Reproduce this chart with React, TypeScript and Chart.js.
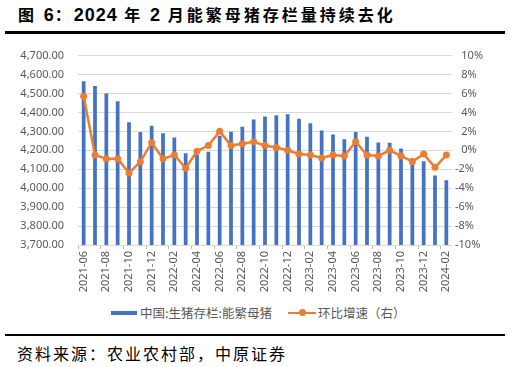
import React, { useEffect, useRef } from 'react';
import { Chart, registerables } from 'chart.js';

Chart.register(...registerables);

const categories = [
  '2021-06', '2021-07', '2021-08', '2021-09', '2021-10', '2021-11', '2021-12',
  '2022-01', '2022-02', '2022-03', '2022-04', '2022-05', '2022-06', '2022-07',
  '2022-08', '2022-09', '2022-10', '2022-11', '2022-12', '2023-01', '2023-02',
  '2023-03', '2023-04', '2023-05', '2023-06', '2023-07', '2023-08', '2023-09',
  '2023-10', '2023-11', '2023-12', '2024-01', '2024-02',
];

const sowStock = [
  4564, 4539, 4500, 4459, 4348, 4296, 4329,
  4290, 4268, 4185, 4177, 4192, 4277, 4298,
  4324, 4362, 4379, 4385, 4390, 4367, 4343,
  4305, 4284, 4258, 4296, 4271, 4241, 4240,
  4210, 4158, 4142, 4067, 4042,
];

const momGrowth = [
  5.7, -0.5, -0.9, -0.9, -2.4, -1.2, 0.8,
  -0.9, -0.5, -1.9, -0.1, 0.5, 2.0, 0.5,
  0.7, 0.9, 0.5, 0.3, 0.0, -0.4, -0.5,
  -0.8, -0.5, -0.6, 0.9, -0.5, -0.6, 0.0,
  -0.6, -1.2, -0.4, -1.8, -0.5,
];

const barLabel = '中国:生猪存栏:能繁母猪';
const lineLabel = '环比增速（右）';
const titleParts = ['图 ', '6', '：', '2024', ' 年 ', '2', ' 月能繁母猪存栏量持续去化'];
const sourceText = '资料来源：农业农村部，中原证券';

const BLUE = '#4472C4';
const ORANGE = '#ED7D31';
const TICK = '#595959';
const GRID = '#D9D9D9';
const CJK = "'Noto Sans CJK SC', 'Noto Sans', sans-serif";

export default function App() {
  const ref = useRef<HTMLCanvasElement | null>(null);

  useEffect(() => {
    if (!ref.current) return;
    const chart = new Chart(ref.current, {
      type: 'bar',
      data: {
        labels: categories,
        datasets: [
          {
            type: 'bar',
            label: barLabel,
            data: sowStock,
            backgroundColor: BLUE,
            barPercentage: 0.33,
            categoryPercentage: 1,
            yAxisID: 'y',
            order: 1,
          },
          {
            type: 'line',
            label: lineLabel,
            data: momGrowth,
            borderColor: ORANGE,
            backgroundColor: ORANGE,
            borderWidth: 2.5,
            pointRadius: 3.5,
            pointBackgroundColor: ORANGE,
            pointBorderColor: ORANGE,
            pointBorderWidth: 0,
            tension: 0,
            yAxisID: 'y1',
            order: 0,
          },
        ],
      },
      options: {
        responsive: false,
        animation: false,
        devicePixelRatio: 1,
        layout: { padding: { top: 10, left: 0, right: 0, bottom: 0 } },
        plugins: {
          legend: { display: false },
          tooltip: { enabled: false },
        },
        scales: {
          x: {
            offset: true,
            grid: {
              display: true,
              offset: true,
              drawOnChartArea: false,
              drawTicks: true,
              tickLength: 4,
              color: (ctx: any) => (ctx.index % 2 === 0 ? '#BFBFBF' : 'rgba(0,0,0,0)'),
            },
            border: { display: false },
            ticks: {
              autoSkip: false,
              minRotation: 90,
              maxRotation: 90,
              padding: 2,
              color: TICK,
              font: { family: "'Noto Sans', sans-serif", size: 11 },
              callback: (_v: any, i: number) => (i % 2 === 0 ? categories[i] : ''),
            },
            afterFit: (s: any) => {
              s.height = 55;
            },
          },
          y: {
            position: 'left',
            min: 3700,
            max: 4700,
            ticks: {
              stepSize: 100,
              padding: 14,
              color: TICK,
              font: { family: "'Noto Sans', sans-serif", size: 11 },
              callback: (v: any) =>
                Number(v).toLocaleString('en-US', { minimumFractionDigits: 2, maximumFractionDigits: 2 }),
            },
            grid: { color: GRID, lineWidth: 1, drawTicks: false },
            border: { display: false },
            afterFit: (s: any) => {
              s.width = 78;
            },
          },
          y1: {
            position: 'right',
            min: -10,
            max: 10,
            ticks: {
              stepSize: 2,
              padding: 3,
              color: TICK,
              font: { family: "'Noto Sans', sans-serif", size: 11 },
              callback: (v: any) => (Number(v) < 0 ? '' : '\u2007') + v + '%',
            },
            grid: { display: false, drawOnChartArea: false, drawTicks: false },
            border: { display: false },
            afterFit: (s: any) => {
              s.width = 58;
            },
          },
        },
      } as any,
    });
    return () => chart.destroy();
  }, []);

  return (
    <div
      style={{
        position: 'absolute',
        left: 0,
        top: 0,
        width: 510,
        height: 367,
        background: '#fff',
        overflow: 'hidden',
        fontFamily: CJK,
      }}
    >
      <div
        style={{
          position: 'absolute',
          left: 18,
          top: 4,
          fontSize: 16,
          lineHeight: '20px',
          fontWeight: 700,
          color: '#000',
          whiteSpace: 'nowrap',
        }}
      >
        {titleParts.map((p, i) => (
          <span
            key={i}
            style={
              /^[0-9]+$/.test(p)
                ? { fontFamily: "'Liberation Sans', Arial, sans-serif", fontSize: 18, letterSpacing: 1 }
                : { letterSpacing: 3 }
            }
          >
            {p}
          </span>
        ))}
      </div>
      <div style={{ position: 'absolute', left: 5, top: 31, width: 500, height: 3, background: '#000' }} />
      <canvas
        ref={ref}
        width={510}
        height={265}
        style={{ position: 'absolute', left: 0, top: 35, width: 510, height: 265 }}
      />
      <div style={{ position: 'absolute', left: 111, top: 311, width: 26, height: 4, background: BLUE }} />
      <div
        style={{
          position: 'absolute',
          left: 140,
          top: 304,
          fontSize: 12.5,
          lineHeight: '17px',
          color: TICK,
          whiteSpace: 'nowrap',
        }}
      >
        {barLabel}
      </div>
      <div style={{ position: 'absolute', left: 288, top: 311.5, width: 28, height: 2.5, background: ORANGE }} />
      <div
        style={{
          position: 'absolute',
          left: 298.5,
          top: 309,
          width: 7,
          height: 7,
          borderRadius: '50%',
          background: ORANGE,
        }}
      />
      <div
        style={{
          position: 'absolute',
          left: 318,
          top: 304,
          fontSize: 12.5,
          lineHeight: '17px',
          color: TICK,
          whiteSpace: 'nowrap',
        }}
      >
        {lineLabel}
      </div>
      <div style={{ position: 'absolute', left: 5, top: 334, width: 500, height: 2, background: '#000' }} />
      <div
        style={{
          position: 'absolute',
          left: 17,
          top: 343,
          fontSize: 16,
          lineHeight: '20px',
          letterSpacing: 2,
          color: '#000',
          whiteSpace: 'nowrap',
        }}
      >
        {sourceText}
      </div>
    </div>
  );
}
